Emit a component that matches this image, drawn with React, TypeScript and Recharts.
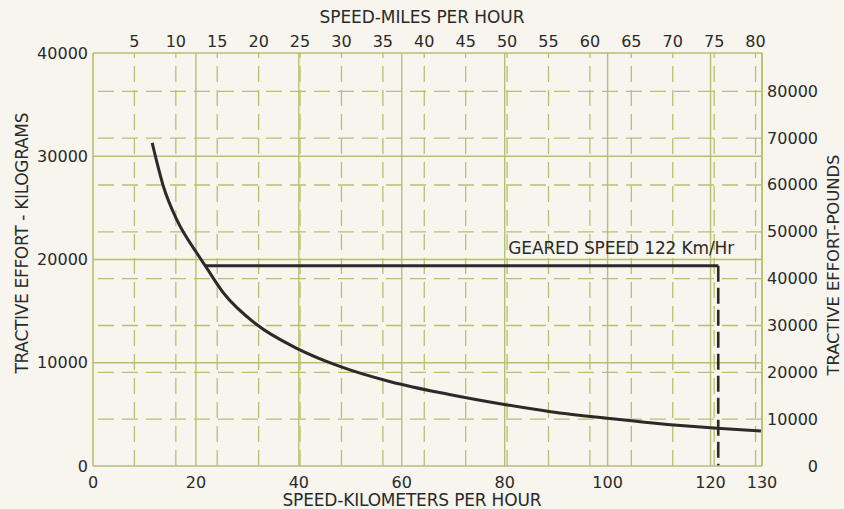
import React from 'react';
import { ComposedChart, Line, XAxis, YAxis, ReferenceLine, ReferenceDot, Label } from 'recharts';

const KM_PER_MILE = 1.609344;
const LB_PER_KG = 2.20462;

const kmTicks = [0, 20, 40, 60, 80, 100, 120, 130];
const kmGrid = [20, 40, 60, 80, 100, 120];
const mphTicks = [5, 10, 15, 20, 25, 30, 35, 40, 45, 50, 55, 60, 65, 70, 75, 80];
const kgTicks = [0, 10000, 20000, 30000, 40000];
const kgGrid = [10000, 20000, 30000];
const lbTicks = [0, 10000, 20000, 30000, 40000, 50000, 60000, 70000, 80000];

const curveKm = [11.5, 13.7, 16.3, 20.2, 21.8, 25.4, 31.8, 39.6, 48.1, 57.8, 69, 80.5, 88.9, 99.9, 112.9, 121.3, 129.8];
const curveKg = [31300, 27050, 23830, 20600, 19400, 16730, 13700, 11400, 9620, 8160, 6950, 5910, 5260, 4620, 3970, 3650, 3390];

const gearedKm = [21.8, 121.5];
const gearedKg = 19400;
const gearedLabel = 'GEARED SPEED 122 Km/Hr';

const curveData = curveKm.map((km, i) => ({ km, kg: curveKg[i] }));
const gearedData = gearedKm.map((km) => ({ km, kg: gearedKg }));
const gearedDrop = [
  { km: gearedKm[1], kg: gearedKg },
  { km: gearedKm[1], kg: 0 },
];
const mphTicksKm = mphTicks.map((m) => m * KM_PER_MILE);

const BG = '#f7f5ed';
const GRID = '#b5c171';
const INK = '#2a2a2a';
const FONT = '"DejaVu Sans", sans-serif';

const txt = { fontFamily: FONT, fill: INK } as const;

const LeftTick = (p: any) => (
  <text x={p.x} y={p.y} textAnchor="end" dominantBaseline="central" fontSize={16} {...txt}>
    {p.payload.value}
  </text>
);
const RightTick = (p: any) => (
  <text x={p.x + 51} y={p.y} textAnchor="end" dominantBaseline="central" fontSize={16} {...txt}>
    {p.payload.value}
  </text>
);
const BottomTick = (p: any) => (
  <text x={p.x} y={p.y} textAnchor="middle" dominantBaseline="central" fontSize={16} {...txt}>
    {p.payload.value}
  </text>
);
const TopTick = (p: any) => (
  <text x={p.x} y={41} textAnchor="middle" dominantBaseline="central" fontSize={16} {...txt}>
    {Math.round(p.payload.value / KM_PER_MILE)}
  </text>
);

export default function App() {
  return (
    <div style={{ position: 'absolute', left: 0, top: 0, width: 844, height: 509, background: BG }}>
      <ComposedChart width={844} height={509} margin={{ top: 0, right: 0, bottom: 0, left: 0 }}>
        <XAxis
          xAxisId="km"
          dataKey="km"
          type="number"
          domain={[0, 130]}
          ticks={kmTicks}
          allowDataOverflow
          height={43}
          tickSize={0}
          tickMargin={16}
          tickLine={false}
          axisLine={{ stroke: GRID, strokeWidth: 1.6 }}
          tick={<BottomTick />}
          interval={0}
        >
          <Label
            content={() => (
              <text x={412} y={500} textAnchor="middle" dominantBaseline="central" fontSize={17} textLength={259} {...txt}>
                SPEED-KILOMETERS PER HOUR
              </text>
            )}
          />
        </XAxis>
        <XAxis
          xAxisId="top"
          dataKey="km"
          orientation="top"
          type="number"
          domain={[0, 130]}
          ticks={mphTicksKm}
          allowDataOverflow
          height={53}
          tickSize={0}
          tickMargin={12}
          tickLine={false}
          axisLine={{ stroke: GRID, strokeWidth: 1.6 }}
          tick={<TopTick />}
          interval={0}
        >
          <Label
            content={() => (
              <text x={422} y={17} textAnchor="middle" dominantBaseline="central" fontSize={17} textLength={205} {...txt}>
                SPEED-MILES PER HOUR
              </text>
            )}
          />
        </XAxis>
        <YAxis
          yAxisId="kg"
          type="number"
          domain={[0, 40000]}
          ticks={kgTicks}
          allowDataOverflow
          width={93}
          tickSize={0}
          tickMargin={5}
          tickLine={false}
          axisLine={{ stroke: GRID, strokeWidth: 1.6 }}
          tick={<LeftTick />}
          interval={0}
        >
          <Label
            content={() => (
              <text
                transform="translate(22,243) rotate(-90)"
                textAnchor="middle"
                dominantBaseline="central"
                fontSize={17}
                textLength={261}
                {...txt}
              >
                TRACTIVE EFFORT - KILOGRAMS
              </text>
            )}
          />
        </YAxis>
        <YAxis
          yAxisId="lb"
          orientation="right"
          type="number"
          domain={[0, 40000 * LB_PER_KG]}
          ticks={lbTicks}
          allowDataOverflow
          width={82}
          tickSize={0}
          tickMargin={5}
          tickLine={false}
          axisLine={{ stroke: GRID, strokeWidth: 1.6 }}
          tick={<RightTick />}
          interval={0}
        >
          <Label
            content={() => (
              <text
                transform="translate(833,265) rotate(-90)"
                textAnchor="middle"
                dominantBaseline="central"
                fontSize={16.5}
                textLength={221}
                {...txt}
              >
                TRACTIVE EFFORT-POUNDS
              </text>
            )}
          />
        </YAxis>

        {mphTicksKm.map((k) => (
          <ReferenceLine
            key={'mph' + k}
            xAxisId="km"
            yAxisId="kg"
            x={k}
            stroke={GRID}
            strokeWidth={1.3}
            strokeDasharray="16 8"
          />
        ))}
        {lbTicks.slice(1).map((v) => (
          <ReferenceLine
            key={'lb' + v}
            xAxisId="km"
            yAxisId="lb"
            y={v}
            stroke={GRID}
            strokeWidth={1.3}
            strokeDasharray="16 8"
          />
        ))}
        {kmGrid.map((k) => (
          <ReferenceLine key={'km' + k} xAxisId="km" yAxisId="kg" x={k} stroke={GRID} strokeWidth={1.4} />
        ))}
        {kgGrid.map((v) => (
          <ReferenceLine key={'kg' + v} xAxisId="km" yAxisId="kg" y={v} stroke={GRID} strokeWidth={1.4} />
        ))}
        <ReferenceLine xAxisId="km" yAxisId="kg" x={130} stroke={GRID} strokeWidth={1.6} />

        <Line
          xAxisId="top"
          yAxisId="kg"
          data={curveData}
          dataKey="kg"
          stroke="none"
          dot={false}
          legendType="none"
          isAnimationActive={false}
        />
        <Line
          xAxisId="km"
          yAxisId="kg"
          data={curveData}
          dataKey="kg"
          type="monotone"
          stroke={INK}
          strokeWidth={3}
          dot={false}
          isAnimationActive={false}
        />
        <Line
          xAxisId="km"
          yAxisId="kg"
          data={gearedData}
          dataKey="kg"
          type="linear"
          stroke={INK}
          strokeWidth={3}
          dot={false}
          isAnimationActive={false}
        />
        <Line
          xAxisId="km"
          yAxisId="kg"
          data={gearedDrop}
          dataKey="kg"
          type="linear"
          stroke={INK}
          strokeWidth={2.6}
          strokeDasharray="16 6"
          dot={false}
          isAnimationActive={false}
        />
        <ReferenceDot
          xAxisId="km"
          yAxisId="kg"
          x={gearedKm[1]}
          y={gearedKg}
          r={0}
          stroke="none"
          fill="none"
          label={{
            content: (p: any) => {
              const vb = p.viewBox || {};
              return (
                <text x={(vb.x || 0) + 16} y={(vb.y || 0) - 12} textAnchor="end" fontSize={17} textLength={226} {...txt}>
                  {gearedLabel}
                </text>
              );
            },
          }}
        />
      </ComposedChart>
    </div>
  );
}
